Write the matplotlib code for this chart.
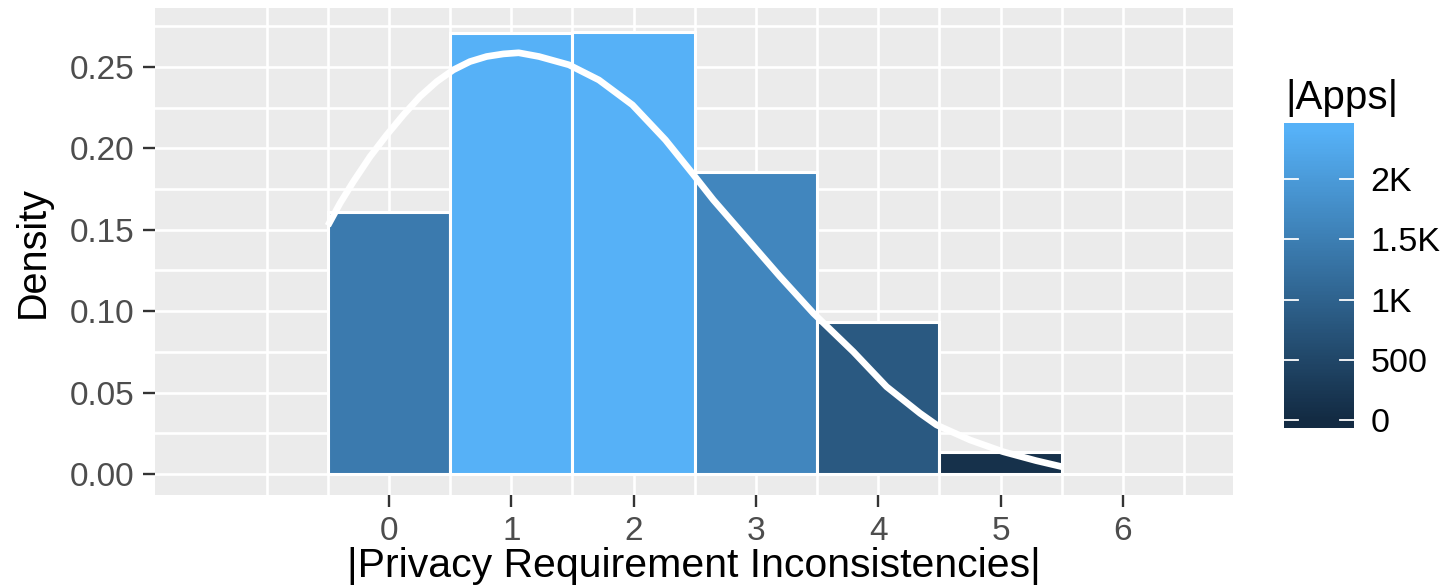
import numpy as np
import matplotlib
matplotlib.use("Agg")
import matplotlib.pyplot as plt
from matplotlib.colors import LinearSegmentedColormap, Normalize

plt.rcParams['font.family'] = ['Liberation Sans', 'DejaVu Sans']

# histogram bins (centres) and density
bin_centres = [0, 1, 2, 3, 4, 5, 6]
density = [0.1609, 0.2707, 0.2713, 0.1853, 0.0936, 0.0137, 0.0]
total_apps = 8850  # number of apps (so that the fullest bin is ~2.4K)
counts = [d * total_apps for d in density]

# white density curve
curve_x = [-0.50, -0.40, -0.291, -0.155, -0.019, 0.117, 0.253, 0.39, 0.526, 0.662,
           0.798, 0.935, 1.06, 1.226, 1.471, 1.716, 1.99, 2.26, 2.48, 2.652,
           2.924, 3.197, 3.47, 3.796, 4.068, 4.341, 4.477, 4.75, 5.02, 5.29, 5.50]
curve_y = [0.1525, 0.1663, 0.1796, 0.1949, 0.2082, 0.2205, 0.2318, 0.2410, 0.2482, 0.2533,
           0.2564, 0.2580, 0.2587, 0.2564, 0.2513, 0.2420, 0.2267, 0.2052, 0.1847, 0.1683,
           0.1448, 0.1212, 0.0987, 0.0751, 0.0536, 0.0373, 0.0301, 0.0209, 0.0137, 0.0082, 0.0045]

x_ticks = [0, 1, 2, 3, 4, 5, 6]
y_ticks = [0.00, 0.05, 0.10, 0.15, 0.20, 0.25]
y_ticklabels = ["0.00", "0.05", "0.10", "0.15", "0.20", "0.25"]
cbar_ticks = [0, 500, 1000, 1500, 2000]
cbar_labels = ["0", "500", "1K", "1.5K", "2K"]

cmap = LinearSegmentedColormap.from_list("gg", ["#132B43", "#56B1F7"])
cmin, cmax = min(counts), max(counts)
norm = Normalize(cmin, cmax)

fig = plt.figure(figsize=(14.49, 5.87), dpi=100)
ax = fig.add_axes([155 / 1449, 1 - 495 / 587, (1233 - 155) / 1449, (495 - 8) / 587])
ax.set_facecolor("#EBEBEB")
for s in ax.spines.values():
    s.set_visible(False)

ax.set_xlim(-1.913, 6.90)
ax.set_ylim(-0.0129, 0.2862)
ax.set_xticks(x_ticks)
ax.set_xticks([-1, -0.5, 0.5, 1.5, 2.5, 3.5, 4.5, 5.5, 6.5], minor=True)
ax.set_yticks(y_ticks)
ax.set_yticklabels(y_ticklabels)
ax.set_yticks([0.025, 0.075, 0.125, 0.175, 0.225, 0.275], minor=True)
ax.grid(True, which="both", color="white", linewidth=1.9)
ax.set_axisbelow(True)
ax.tick_params(which="major", length=8.5, width=1.7, color="#333333",
               labelsize=24, labelcolor="#4D4D4D", pad=6.5)
ax.tick_params(which="minor", length=0)

ax.bar(bin_centres, density, width=1.0, color=cmap(norm(counts)),
       edgecolor="white", linewidth=2.2, zorder=2)
ax.plot(curve_x, curve_y, color="white", linewidth=4.8, zorder=3,
        solid_capstyle="butt", solid_joinstyle="round")

ax.set_xlabel("|Privacy Requirement Inconsistencies|", fontsize=29.5, labelpad=0)
ax.set_ylabel("Density", fontsize=28.5, labelpad=13)

# colour bar; ticks inset by half a bin like ggplot's 20-bin legend
nbin = 20
half = (cmax - cmin) / (nbin - 1) / 2
grad = np.linspace(cmin - half, cmax + half, 200)
cax = fig.add_axes([1284 / 1449, 1 - 428 / 587, 70 / 1449, 305 / 587])
cax.imshow(cmap(norm(np.clip(grad, cmin, cmax)))[:, None, :],
           extent=[0, 1, cmin - half, cmax + half],
           origin="lower", aspect="auto", interpolation="nearest")
cax.set_xlim(0, 1)
cax.set_ylim(cmin - half, cmax + half)
for s in cax.spines.values():
    s.set_visible(False)
cax.set_xticks([])
cax.yaxis.tick_right()
cax.set_yticks(cbar_ticks)
cax.set_yticklabels(cbar_labels)
cax.tick_params(axis="y", length=0, pad=12, labelsize=24.5, labelcolor="black")
for t in cbar_ticks:
    cax.plot([0, 0.2], [t, t], color="white", linewidth=1.3)
    cax.plot([0.8, 1], [t, t], color="white", linewidth=1.3)

fig.text(1285 / 1449, 1 - 109 / 587, "|Apps|", fontsize=29, va="baseline", ha="left")

fig.savefig("out.png", dpi=100)
